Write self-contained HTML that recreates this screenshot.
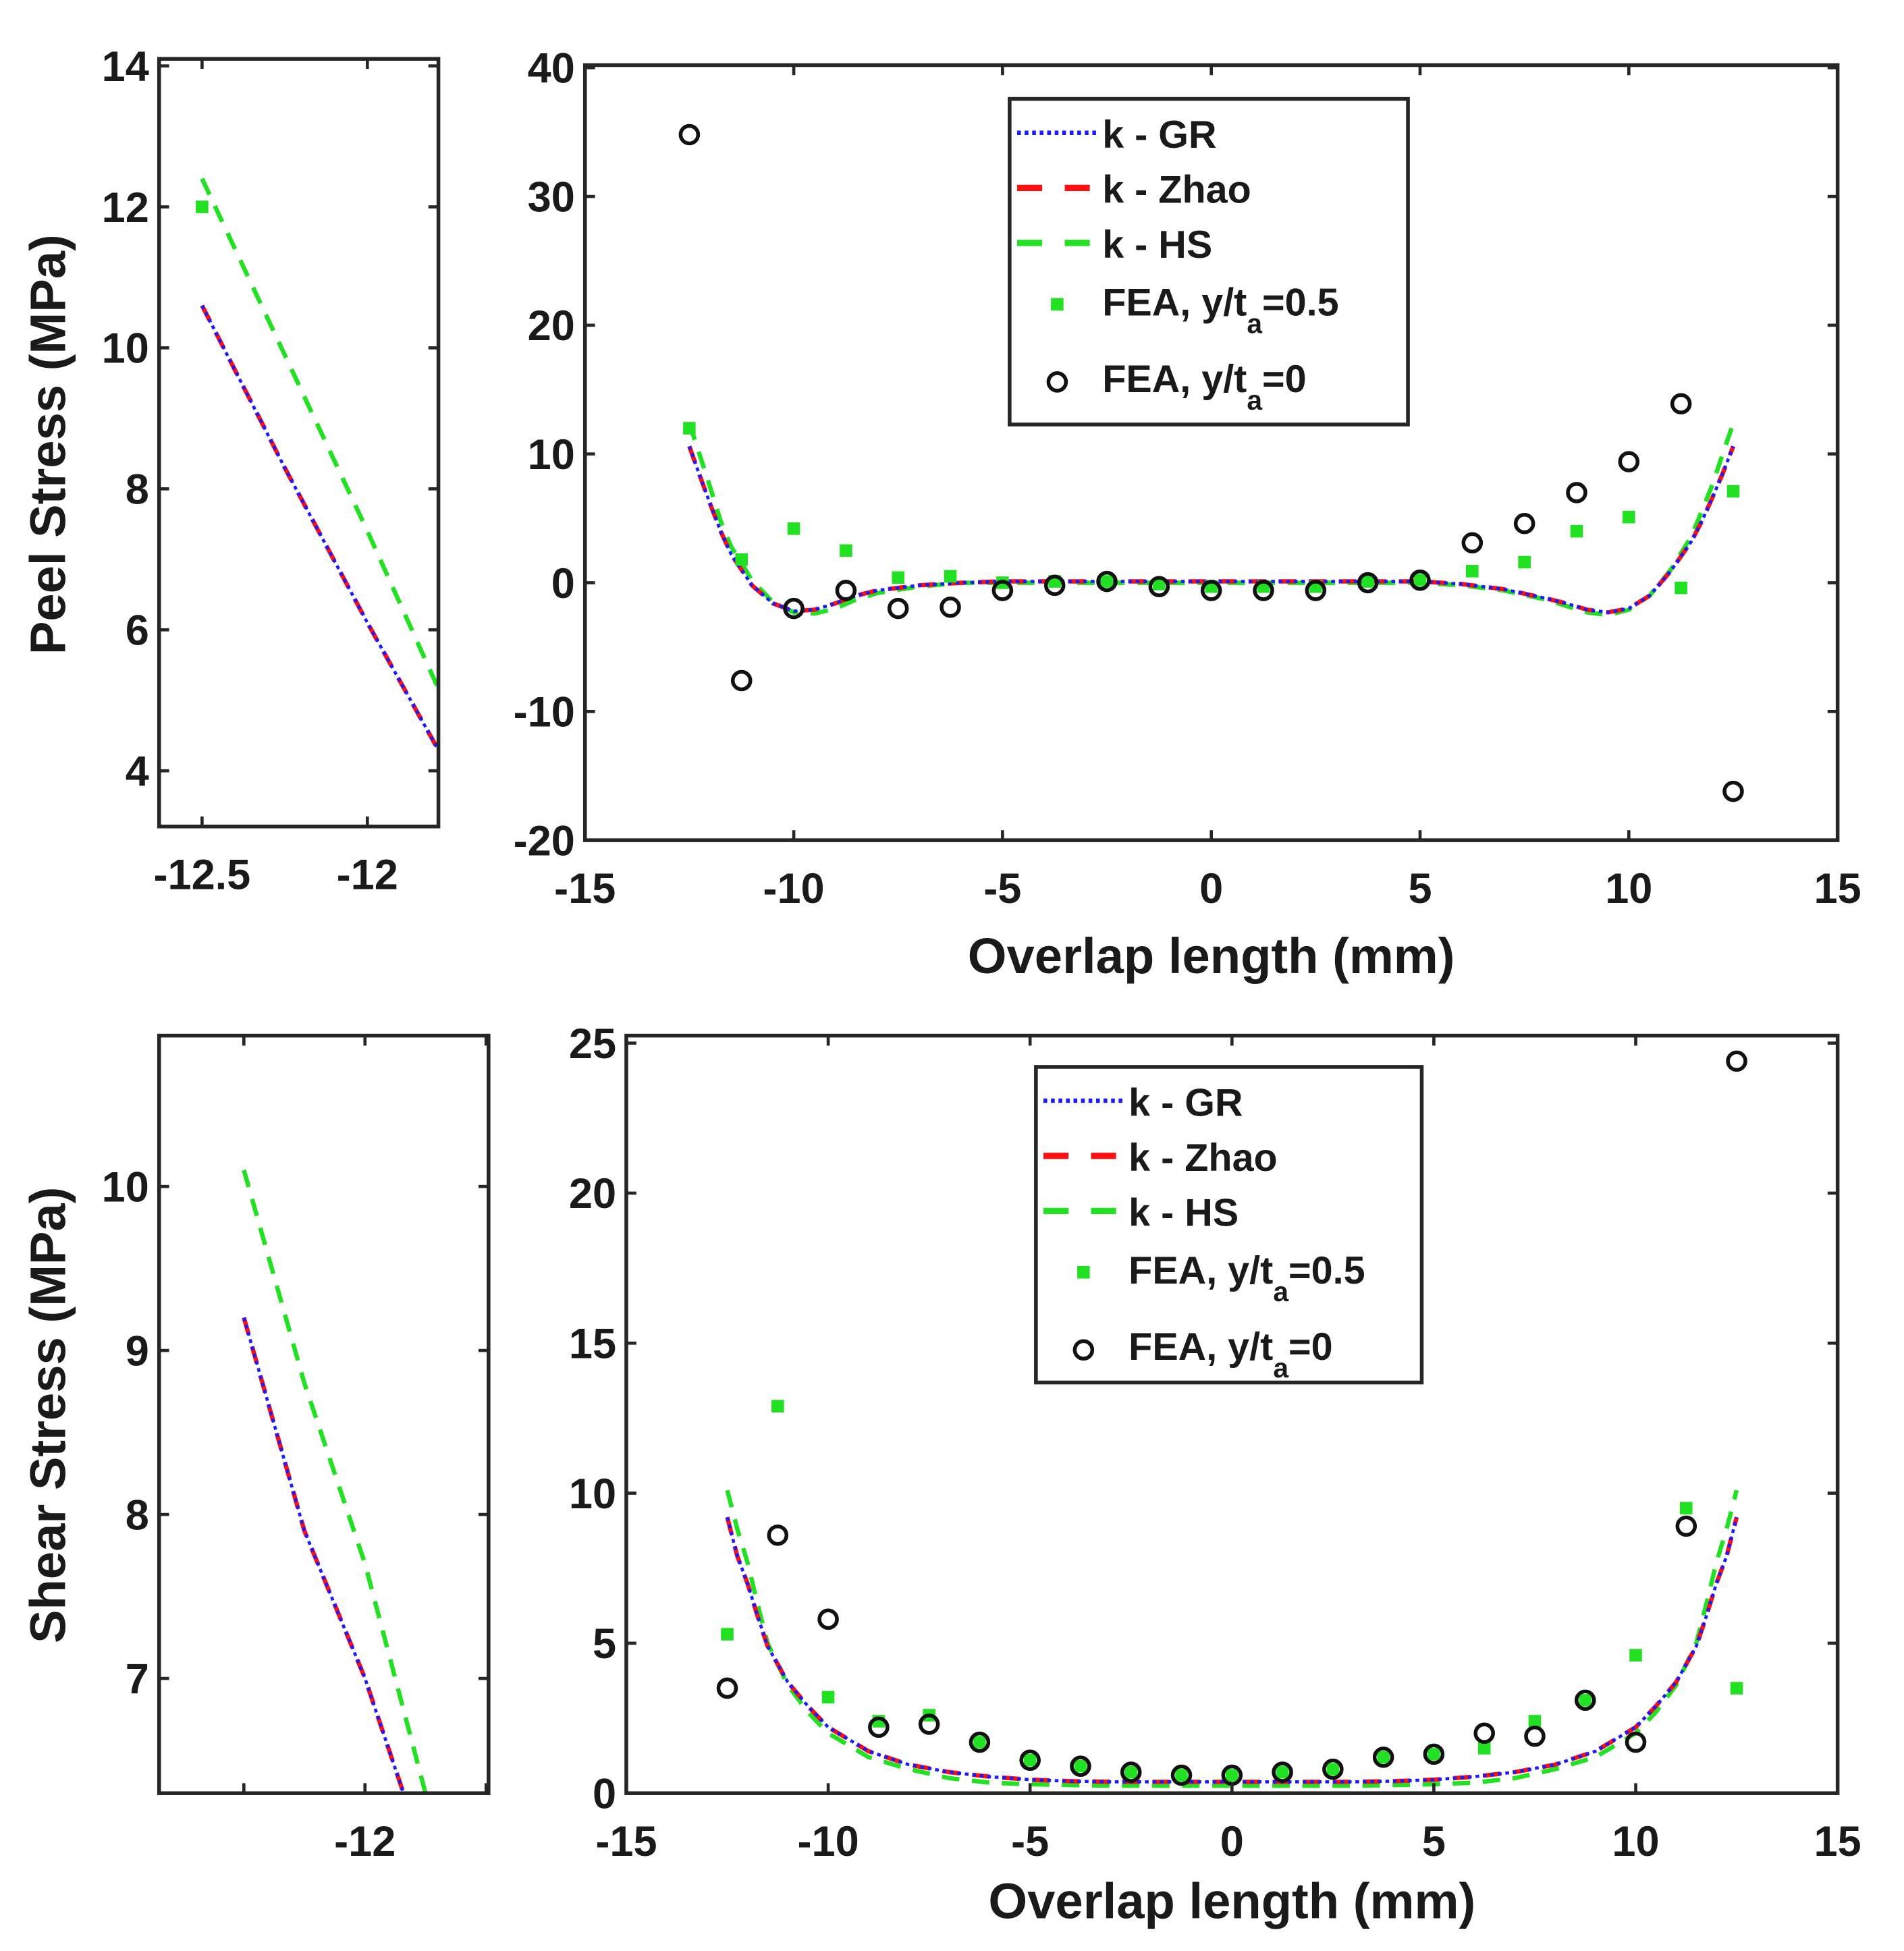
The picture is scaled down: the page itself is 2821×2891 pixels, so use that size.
<!DOCTYPE html>
<html><head><meta charset="utf-8"><style>
html,body{margin:0;padding:0;background:#fff;overflow:hidden;width:2821px;height:2891px}
svg{display:block}
text{font-family:"Liberation Sans",Arial,sans-serif;font-weight:bold;fill:#1a1a1a}
</style></head><body>
<svg id="fig" width="2821" height="2891" viewBox="0 0 1520 1558" preserveAspectRatio="none" xmlns="http://www.w3.org/2000/svg"></svg>
<script>
// ---- data ----
const peelCurveX = [-12.5,-12.25,-12,-11.75,-11.5,-11,-10.5,-10,-9.5,-9,-8.5,-8,-7,-6,-5,-4,-3,-2,-1,0,1,2,3,4,5,6,7,8,8.5,9,9.5,10,10.5,11,11.5,11.75,12,12.25,12.5];
const peelGR   = [10.6,8.3,6.1,4.0,2.2,-0.2,-1.6,-2.2,-2.1,-1.6,-1.0,-0.6,-0.2,0,0.1,0.1,0.1,0.1,0.1,0.1,0.1,0.1,0.1,0.1,0.1,-0.1,-0.5,-1.2,-1.6,-2.1,-2.3,-2.0,-1.0,0.9,3.2,4.8,6.6,8.5,10.6];
const peelHS   = [12.4,9.9,7.4,4.8,2.8,0.2,-1.5,-2.3,-2.4,-2.0,-1.3,-0.8,-0.3,0,0,0,0,0,0,0,0,0,0,0,0,-0.2,-0.6,-1.3,-1.8,-2.3,-2.5,-2.1,-1.0,1.0,3.6,5.6,7.6,10.0,12.4];
const feaX = [-12.5,-11.25,-10,-8.75,-7.5,-6.25,-5,-3.75,-2.5,-1.25,0,1.25,2.5,3.75,5,6.25,7.5,8.75,10,11.25,12.5];
const peelFEAhalf = [12,1.8,4.2,2.5,0.4,0.5,0,0.1,0.1,-0.1,-0.3,-0.3,-0.3,0.1,0.2,0.9,1.6,4,5.1,-0.4,7.1];
const peelFEAzero = [34.8,-7.6,-2,-0.6,-2,-1.9,-0.6,-0.2,0.1,-0.3,-0.6,-0.6,-0.6,0,0.2,3.1,4.6,7,9.4,13.9,-16.2];
const shearCurveX = [-12.5,-12.25,-12,-11.75,-11.5,-11,-10.5,-10,-9,-8,-7,-6,-5,-4,-3,-2,-1,0,1,2,3,4,5,6,7,8,9,10,10.5,11,11.5,11.75,12,12.25,12.5];
const shearGR  = [9.2,7.9,7.0,5.9,4.9,3.7,2.9,2.2,1.4,0.95,0.7,0.55,0.45,0.4,0.38,0.38,0.38,0.38,0.38,0.38,0.38,0.4,0.45,0.55,0.7,0.95,1.4,2.2,2.9,3.7,4.9,5.9,7.0,7.9,9.2];
const shearHS  = [10.1,8.8,7.7,6.3,5.0,3.6,2.7,2.0,1.2,0.8,0.5,0.35,0.3,0.27,0.25,0.25,0.25,0.25,0.25,0.25,0.25,0.27,0.3,0.35,0.5,0.8,1.2,2.0,2.7,3.6,5.0,6.3,7.7,8.8,10.1];
const shearFEAhalf = [5.3,12.9,3.2,2.4,2.6,1.7,1.1,0.9,0.7,0.6,0.6,0.7,0.8,1.2,1.3,1.5,2.4,3.1,4.6,9.5,3.5];
const shearFEAzero = [3.5,8.6,5.8,2.2,2.3,1.7,1.1,0.9,0.7,0.6,0.6,0.7,0.8,1.2,1.3,2,1.9,3.1,1.7,8.9,24.4];
const mainXTicks = [-15,-10,-5,0,5,10,15];
const peelYTicks = [-20,-10,0,10,20,30,40];
const shearYTicks = [0,5,10,15,20,25];
const peelInsetYTicks = [4,6,8,10,12,14];
const peelInsetXTicks = [-12.5,-12];
const shearInsetYTicks = [7,8,9,10];
const shearInsetXTicks = [-12];
const legendLabels = ["k - GR","k - Zhao","k - HS"];

const NS="http://www.w3.org/2000/svg";
const svg=document.getElementById('fig');
let clipN=0;
function mk(tag,attrs,parent){const e=document.createElementNS(NS,tag);for(const k in attrs)e.setAttribute(k,attrs[k]);(parent||svg).appendChild(e);return e;}

function panel(p){
  const g=mk('g',{});
  
  
  const sx=v=>p.x0+(v-p.xmin)/(p.xmax-p.xmin)*(p.x1-p.x0);
  const sy=v=>p.y1-(v-p.ymin)/(p.ymax-p.ymin)*(p.y1-p.y0);
  const id='c'+(clipN++);
  const cp=mk('clipPath',{id:id},g);mk('rect',{x:p.x0,y:p.y0,width:p.x1-p.x0,height:p.y1-p.y0},cp);
  const pg=mk('g',{'clip-path':'url(#'+id+')'},g);
  function line(xs,ys,color,dash,nm,w){
    const d=xs.map((x,i)=>(i?'L':'M')+sx(x).toFixed(1)+' '+sy(ys[i]).toFixed(1)).join(' ');
    const e=mk('path',{d:d,fill:'none',stroke:color,'stroke-width':w||3,'stroke-dasharray':dash},pg);
    
    
  }
  line(p.cx,p.hs,'#22e022','14 10','k-hs-curve',3.5);
  line(p.cx,p.gr,'#ff1010','14 10','k-zhao-curve',3.5);
  line(p.cx,p.gr,'#1a1aff','3 3','k-gr-curve',2.5);
  if(p.fx){
    p.fx.forEach((x,i)=>{
      const r=mk('rect',{x:sx(x)-5,y:sy(p.fh[i])-5,width:10,height:10,fill:'#22e022'},pg);
      
      
    });
    p.fx.forEach((x,i)=>{
      const c=mk('circle',{cx:sx(x),cy:sy(p.fz[i]),r:7,fill:'none',stroke:'#111','stroke-width':3},pg);
      
      
    });
  }
  mk('rect',{x:p.x0,y:p.y0,width:p.x1-p.x0,height:p.y1-p.y0,fill:'none',stroke:'#262626','stroke-width':3},g);
  p.xt.forEach(v=>{const X=sx(v);
    mk('line',{x1:X,x2:X,y1:p.y1,y2:p.y1-8,stroke:'#262626','stroke-width':2.5},g);
    mk('line',{x1:X,x2:X,y1:p.y0,y2:p.y0+8,stroke:'#262626','stroke-width':2.5},g);
    const t=mk('text',{x:X,y:p.y1+50,'text-anchor':'middle','font-size':34},g);t.textContent=v;
    
    
  });
  (p.xtu||[]).forEach(v=>{const X=sx(v);
    mk('line',{x1:X,x2:X,y1:p.y1,y2:p.y1-8,stroke:'#262626','stroke-width':2.5},g);
    mk('line',{x1:X,x2:X,y1:p.y0,y2:p.y0+8,stroke:'#262626','stroke-width':2.5},g);});
  p.yt.forEach(v=>{const Y=sy(v);
    mk('line',{x1:p.x0,x2:p.x0+8,y1:Y,y2:Y,stroke:'#262626','stroke-width':2.5},g);
    mk('line',{x1:p.x1,x2:p.x1-8,y1:Y,y2:Y,stroke:'#262626','stroke-width':2.5},g);
    const t=mk('text',{x:p.x0-8,y:Y+12,'text-anchor':'end','font-size':34},g);t.textContent=v;
    
    
  });
  if(p.leg){legend(p.leg[0],p.leg[1],p.leg[2],p.leg[3]);}
  if(p.xlabel){const t=mk('text',{x:(p.x0+p.x1)/2,y:p.y1+p.xlOff,'text-anchor':'middle','font-size':40},g);t.textContent=p.xlabel;
    
    }
}

function legend(x,y,w,h){
  const g=mk('g',{});
  
  
  mk('rect',{x:x,y:y,width:w,height:h,fill:'#fff',stroke:'#262626','stroke-width':3},g);
  const rowsY=[y+27,y+71,y+115,y+161,y+222];
  const styles=[['#1a1aff','3 3'],['#ff1010','20 18'],['#22e022','20 18']];
  legendLabels.forEach((lab,i)=>{
    mk('line',{x1:x+6,x2:x+72,y1:rowsY[i],y2:rowsY[i],stroke:styles[i][0],'stroke-width':i?5:3.5,'stroke-dasharray':styles[i][1]},g);
    const t=mk('text',{x:x+74,y:rowsY[i]+12,'font-size':31},g);t.textContent=lab;
    
    
  });
  mk('rect',{x:x+33,y:rowsY[3]-2,width:10,height:10,fill:'#22e022'},g);
  mk('circle',{cx:x+38,cy:rowsY[4]+4,r:7,fill:'none',stroke:'#111','stroke-width':3},g);
  [['0.5',3],['0',4]].forEach(([v,i])=>{
    const t=mk('text',{x:x+74,y:rowsY[i]+12,'font-size':31},g);
    t.innerHTML='FEA, y/t<tspan dy="14" font-size="22">a</tspan><tspan dy="-14">='+v+'</tspan>';
    
    
  });
}

panel({name:'peel-inset',x0:127,x1:350,y0:47,y1:660,xmin:-12.63,xmax:-11.785,ymin:3.21,ymax:14.1,
  cx:peelCurveX,gr:peelGR,hs:peelHS,fx:feaX,fh:peelFEAhalf,fz:peelFEAzero,xt:peelInsetXTicks,yt:peelInsetYTicks});
panel({name:'peel-main',x0:467,x1:1467,y0:52,y1:671,xmin:-15,xmax:15,ymin:-20,ymax:40.2,
  cx:peelCurveX,gr:peelGR,hs:peelHS,fx:feaX,fh:peelFEAhalf,fz:peelFEAzero,xt:mainXTicks,yt:peelYTicks,
  leg:[806,79,318,260],xlabel:'Overlap length (mm)',xlOff:106});
panel({name:'shear-inset',x0:127,x1:390,y0:827,y1:1432,xmin:-12.85,xmax:-11.49,ymin:6.3,ymax:10.92,
  cx:shearCurveX,gr:shearGR,hs:shearHS,xt:shearInsetXTicks,xtu:[-12.5,-11.5],yt:shearInsetYTicks});
panel({name:'shear-main',x0:500,x1:1467,y0:827,y1:1432,xmin:-15,xmax:15,ymin:0,ymax:25.25,
  cx:shearCurveX,gr:shearGR,hs:shearHS,fx:feaX,fh:shearFEAhalf,fz:shearFEAzero,xt:mainXTicks,yt:shearYTicks,
  leg:[827,852,308,252],xlabel:'Overlap length (mm)',xlOff:100});

const yl1=mk('text',{x:0,y:0,'text-anchor':'middle','font-size':40,transform:'translate(52,355) rotate(-90)'});
yl1.textContent='Peel Stress (MPa)';


const yl2=mk('text',{x:0,y:0,'text-anchor':'middle','font-size':40,transform:'translate(52,1130) rotate(-90)'});
yl2.textContent='Shear Stress (MPa)';


</script>
</body></html>
